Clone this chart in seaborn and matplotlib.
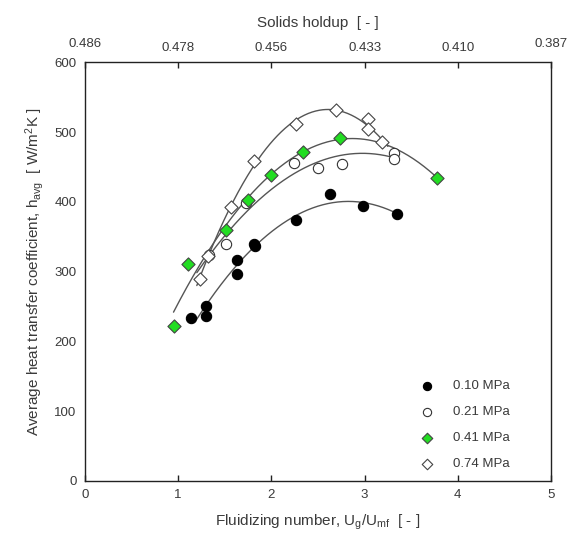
import numpy as np
import pandas as pd
import matplotlib
matplotlib.use("Agg")
import matplotlib.pyplot as plt
from matplotlib.transforms import ScaledTranslation
import seaborn as sns

# data
x_010 = [1.14, 1.30, 1.30, 1.63, 1.63, 1.81, 1.82, 2.26, 2.63, 2.98, 3.35]
y_010 = [234, 250, 237, 317, 297, 340, 337, 374, 411, 394, 382]

x_021 = [1.33, 1.51, 1.73, 2.24, 2.50, 2.76, 3.32, 3.32]
y_021 = [324, 339, 398, 455, 449, 454, 470, 462]

x_041 = [0.95, 1.11, 1.51, 1.75, 2.00, 2.34, 2.74, 3.78]
y_041 = [222, 311, 360, 402, 438, 472, 492, 434]

x_074 = [1.23, 1.32, 1.57, 1.81, 2.26, 2.69, 3.04, 3.04, 3.19]
y_074 = [290, 322, 392, 458, 511, 532, 518, 504, 485]

top_ticks = [0, 1, 2, 3, 4, 5]
top_labels = ["0.486", "0.478", "0.456", "0.433", "0.410", "0.387"]

sns.set_theme(style="white")
plt.rcParams["font.family"] = ["Liberation Sans", "DejaVu Sans"]
plt.rcParams["mathtext.fontset"] = "custom"
plt.rcParams["mathtext.rm"] = "Liberation Sans"
plt.rcParams["mathtext.it"] = "Liberation Sans"
txt = "#3a3a3a"

fig = plt.figure(figsize=(5.68, 5.41), dpi=100)
ax = fig.add_axes([0.1496, 0.111, 0.8205, 0.774])

series = [
    ("0.10 MPa", x_010, y_010, "o", "black", "black", (1.2, 3.35), 2),
    ("0.21 MPa", x_021, y_021, "o", "white", "#333333", (1.2, 3.35), 2),
    ("0.41 MPa", x_041, y_041, "D", "#22dd22", "#444444", (0.95, 3.78), 2),
    ("0.74 MPa", x_074, y_074, "D", "white", "#444444", (1.2, 3.25), 3),
]

# fitted trend curves
for name, xs, ys, mk, fc, ec, rng, deg in series:
    coef = np.polyfit(xs, ys, deg)
    xx = np.linspace(rng[0], rng[1], 200)
    sns.lineplot(x=xx, y=np.polyval(coef, xx), ax=ax, color="#555555", lw=1.0)

for name, xs, ys, mk, fc, ec, rng, deg in series:
    sns.scatterplot(x=xs, y=ys, ax=ax, marker=mk, s=55 if mk == "o" else 45,
                    color=fc, edgecolor=ec, linewidth=0.8, label=name, zorder=3)

ax.set_xlim(0, 5)
ax.set_ylim(0, 600)
ax.set_xticks([0, 1, 2, 3, 4, 5])
ax.set_yticks([0, 100, 200, 300, 400, 500, 600])
ax.tick_params(direction="in", length=4, width=1, colors="#222222",
               labelcolor=txt, labelsize=9.5, pad=6)
for s in ax.spines.values():
    s.set_color("#222222")
    s.set_linewidth(1.0)

ax.set_xlabel("Fluidizing number, U$_g$/U$_{mf}$  [ - ]", fontsize=11, color=txt, labelpad=8)
ax.set_ylabel("Average heat transfer coefficient, h$_{avg}$  [ W/m$^2$K ]",
              fontsize=11, color=txt, labelpad=6)

ax2 = ax.twiny()
ax2.set_xlim(0, 5)
ax2.set_xticks(top_ticks)
ax2.set_xticklabels(top_labels)
ax2.tick_params(direction="in", length=4, width=1, colors="#222222",
                labelcolor=txt, labelsize=9.5, pad=6)
for lbl in [ax2.get_xticklabels()[0], ax2.get_xticklabels()[-1]]:
    lbl.set_transform(lbl.get_transform() + ScaledTranslation(0, 3 / 72, fig.dpi_scale_trans))
ax2.set_xlabel("Solids holdup  [ - ]", fontsize=11, color=txt, labelpad=8)
for s in ax2.spines.values():
    s.set_visible(False)

leg = ax.legend(loc="upper left", bbox_to_anchor=(0.68, 0.27), frameon=False,
                fontsize=9.5, labelspacing=1.05, handletextpad=1.0, markerscale=0.8)
for t in leg.get_texts():
    t.set_color(txt)

fig.savefig("out.png", dpi=100)
